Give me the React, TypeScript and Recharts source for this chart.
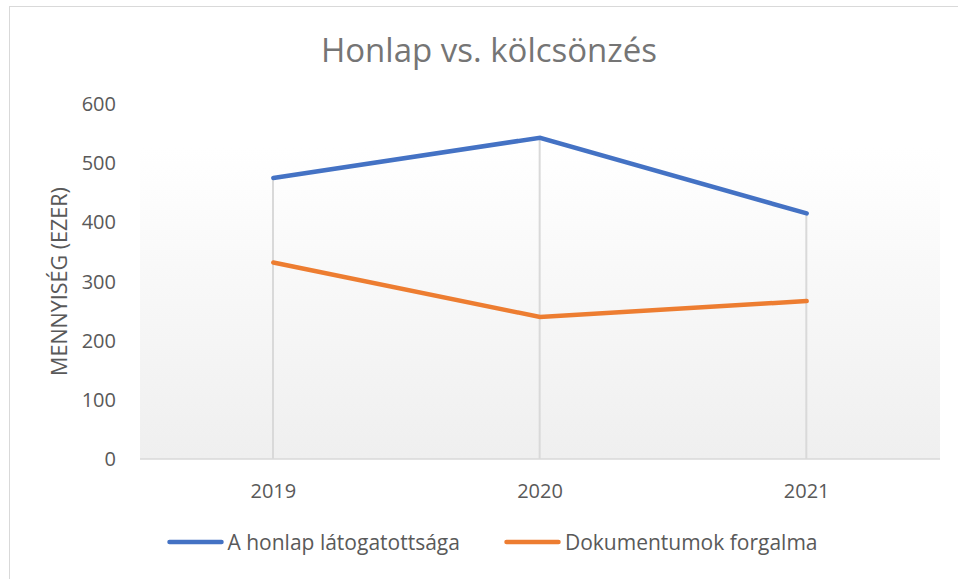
import React from 'react';
import { ComposedChart, Line, Bar, XAxis, YAxis, Legend, CartesianGrid } from 'recharts';

// values in thousands
const years = ['2019', '2020', '2021'];
const honlap = [475, 543, 415];
const dokumentumok = [332, 240, 267];
const yTicks = [0, 100, 200, 300, 400, 500, 600];

const seriesNames = ['A honlap látogatottsága', 'Dokumentumok forgalma'];
const seriesColors = ['#4472C4', '#ED7D31'];

const data = years.map((year, i) => ({
  year,
  honlap: honlap[i],
  dokumentumok: dokumentumok[i],
  // drop line reaches up to the higher of the two series
  drop: Math.max(honlap[i], dokumentumok[i]),
}));

const FONT = '"Open Sans", "Liberation Sans", sans-serif';

const YLabel = ({ viewBox }: any) => {
  const cx = viewBox.x + 48;
  const cy = viewBox.y + viewBox.height / 2;
  return (
    <text
      x={cx}
      y={cy}
      transform={`rotate(-90 ${cx} ${cy})`}
      textAnchor="middle"
      dominantBaseline="central"
      fill="#595959"
      fontSize={21.5}
      fontFamily={FONT}
    >
      MENNYISÉG (EZER)
    </text>
  );
};

const LegendContent = () => (
  <div style={{ display: 'flex', justifyContent: 'center', alignItems: 'center', gap: 44, fontFamily: FONT, fontSize: 21, color: '#595959' }}>
    {seriesNames.map((name, i) => (
      <div key={name} style={{ display: 'flex', alignItems: 'center' }}>
        <svg width={57} height={10} style={{ marginRight: 4 }}>
          <line x1={2.5} y1={5} x2={54.5} y2={5} stroke={seriesColors[i]} strokeWidth={4.5} strokeLinecap="round" />
        </svg>
        <span>{name}</span>
      </div>
    ))}
  </div>
);

export default function App() {
  return (
    <div
      style={{
        position: 'fixed',
        top: 6,
        left: 9,
        width: 960,
        height: 580,
        borderTop: '1px solid #d9d9d9',
        borderLeft: '1px solid #d9d9d9',
        background: '#fff',
      }}
    >
      <div
        style={{
          position: 'absolute',
          top: 20,
          left: 0,
          width: 958,
          textAlign: 'center',
          fontFamily: FONT,
          fontSize: 33,
          color: '#757575',
        }}
      >
        Honlap vs. kölcsönzés
      </div>
      <ComposedChart width={960} height={570} data={data} margin={{ top: 97, right: 30, left: 0, bottom: 58 }}>
        <defs>
          <linearGradient id="plotBg" x1="0" y1="0" x2="0" y2="1">
            <stop offset="0" stopColor="#ffffff" />
            <stop offset="0.12" stopColor="#ffffff" />
            <stop offset="1" stopColor="#efefef" />
          </linearGradient>
        </defs>
        <CartesianGrid horizontal={false} vertical={false} fill="url(#plotBg)" stroke="none" />
        <XAxis
          dataKey="year"
          height={60}
          tickLine={false}
          tickSize={0}
          tickMargin={25}
          axisLine={{ stroke: '#d9d9d9', strokeWidth: 1.5 }}
          tick={{ fill: '#595959', fontSize: 20, fontFamily: FONT }}
        />
        <YAxis
          width={130}
          domain={[0, 600]}
          ticks={yTicks}
          axisLine={false}
          tickLine={false}
          tickSize={0}
          tickMargin={24}
          tick={{ fill: '#595959', fontSize: 20, fontFamily: FONT }}
          label={<YLabel />}
        />
        <Bar dataKey="drop" barSize={2} fill="#d9d9d9" isAnimationActive={false} legendType="none" />
        <Line
          dataKey="honlap"
          name={seriesNames[0]}
          stroke={seriesColors[0]}
          strokeWidth={4.5}
          strokeLinecap="round"
          dot={false}
          activeDot={false}
          isAnimationActive={false}
        />
        <Line
          dataKey="dokumentumok"
          name={seriesNames[1]}
          stroke={seriesColors[1]}
          strokeWidth={4.5}
          strokeLinecap="round"
          dot={false}
          activeDot={false}
          isAnimationActive={false}
        />
        <Legend
          layout="horizontal"
          verticalAlign="middle"
          align="center"
          content={<LegendContent />}
          wrapperStyle={{ top: 521, left: 2, width: 960 }}
        />
      </ComposedChart>
    </div>
  );
}
